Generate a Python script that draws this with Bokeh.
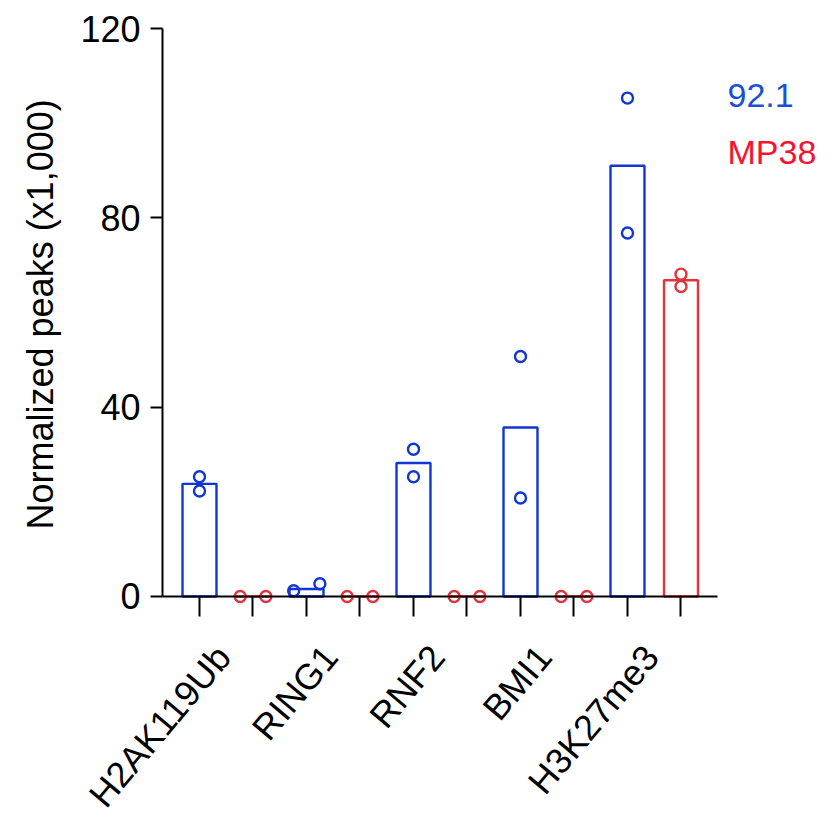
import math
from bokeh.plotting import figure
from bokeh.models import FixedTicker, Range1d, LinearAxis
from bokeh.core.properties import value
from bokeh.embed import file_html
from bokeh.resources import INLINE

# ---- data ----
categories = ["H2AK119Ub", "RING1", "RNF2", "BMI1", "H3K27me3"]
bars_921 = [23.8, 1.6, 28.2, 35.7, 91.0]
bars_mp38 = [0.0, 0.0, 0.0, 0.0, 66.8]
rep1_921 = [25.3, 1.2, 31.1, 50.7, 105.3]
rep2_921 = [22.3, 2.7, 25.3, 20.8, 76.8]
rep1_mp38 = [0.0, 0.0, 0.0, 0.0, 68.1]
rep2_mp38 = [0.0, 0.0, 0.0, 0.0, 65.5]
# horizontal spread of overlapping replicate dots (beeswarm)
jit1_921 = [0.0, -0.24, 0.0, 0.0, 0.0]
jit2_921 = [0.0, 0.25, 0.0, 0.0, 0.0]
jit1_mp38 = [-0.24, -0.24, -0.24, -0.24, 0.0]
jit2_mp38 = [0.24, 0.24, 0.24, 0.24, 0.0]
y_ticks = [0, 40, 80, 120]
series_names = ["92.1", "MP38"]
y_title = "Normalized peaks (x1,000)"

BLUE = "#1037d2"
RED = "#e2343c"
BLUE_TXT = "#1a50d8"
RED_TXT = "#f5132f"
FONT = "Liberation Sans"
FS = "36px"
FS_LEG = "34px"

n = len(categories)
x921 = [2 * i for i in range(n)]
xmp = [2 * i + 1 for i in range(n)]
centers = [2 * i + 0.5 for i in range(n)]

X0, X1 = -0.692, 9.69     # extent of the x axis line
p = figure(width=832, height=819, output_backend="svg", toolbar_location=None,
           x_range=Range1d(-3.7196, 11.832), y_range=Range1d(-47.113, 125.916),
           x_axis_location=None, y_axis_location=None,
           min_border_left=0, min_border_right=0, min_border_top=0,
           min_border_bottom=0)
p.outline_line_color = None
p.grid.grid_line_color = None
p.background_fill_color = "white"

bw = 0.635
p.vbar(x=x921, top=bars_921, bottom=0, width=bw, fill_color=None,
       line_color=BLUE, line_width=2.4)
p.vbar(x=xmp, top=bars_mp38, bottom=0, width=bw, fill_color=None,
       line_color=RED, line_width=2.4)

for xs, js, ys, col in [(x921, jit1_921, rep1_921, BLUE), (x921, jit2_921, rep2_921, BLUE),
                        (xmp, jit1_mp38, rep1_mp38, RED), (xmp, jit2_mp38, rep2_mp38, RED)]:
    p.scatter(x=[a + b for a, b in zip(xs, js)], y=ys, size=11, marker="circle",
              fill_color=None, line_color=col, line_width=2.4)

# legend texts
p.text(x=[9.87], y=[105.8], text=[series_names[0]], text_color=BLUE_TXT,
       text_font=value(FONT), text_font_size=FS_LEG, text_baseline="alphabetic", text_align="left")
p.text(x=[9.87], y=[94.0], text=[series_names[1]], text_color=RED_TXT,
       text_font=value(FONT), text_font_size=FS_LEG, text_baseline="alphabetic", text_align="left")

# y axis (drawn at the left end of the x axis)
ya = LinearAxis(fixed_location=X0)
ya.ticker = FixedTicker(ticks=y_ticks)
ya.bounds = (0, 120)
ya.major_label_text_font = FONT
ya.major_label_text_font_size = FS
ya.major_label_text_color = "black"
ya.major_label_standoff = 10
ya.axis_line_width = 2
ya.major_tick_line_width = 2
ya.major_tick_out = 12
ya.major_tick_in = 0
ya.minor_tick_line_color = None
ya.axis_line_color = "black"
ya.major_tick_line_color = "black"
p.add_layout(ya, "left")

# y axis title
p.text(x=[-2.972], y=[59.6], text=[y_title], angle=90, angle_units="deg",
       text_align="center", text_baseline="middle",
       text_font=value(FONT), text_font_size=FS, text_color="black")

# x axis line + ticks at each bar, drawn at y = 0
xb = LinearAxis(fixed_location=0)
xb.ticker = FixedTicker(ticks=[], minor_ticks=[float(v) for v in range(2 * n)])
xb.bounds = (X0, X1)
xb.major_tick_out = 0
xb.major_tick_in = 0
xb.major_tick_line_color = None
xb.minor_tick_out = 20
xb.minor_tick_in = 0
xb.minor_tick_line_width = 2
xb.minor_tick_line_color = "black"
xb.axis_line_width = 2
xb.axis_line_color = "black"
xb.major_label_text_color = None
xb.major_label_text_font_size = "1px"
xb.major_label_standoff = 0
p.add_layout(xb, "below")

# rotated category labels under each group
p.text(x=centers, y=[-11.4] * n, text=categories, angle=50, angle_units="deg",
       text_align="right", text_baseline="middle", x_offset=-3,
       text_font=value(FONT), text_font_size=FS, text_color="black")

open("out.html", "w").write(file_html(p, INLINE))
